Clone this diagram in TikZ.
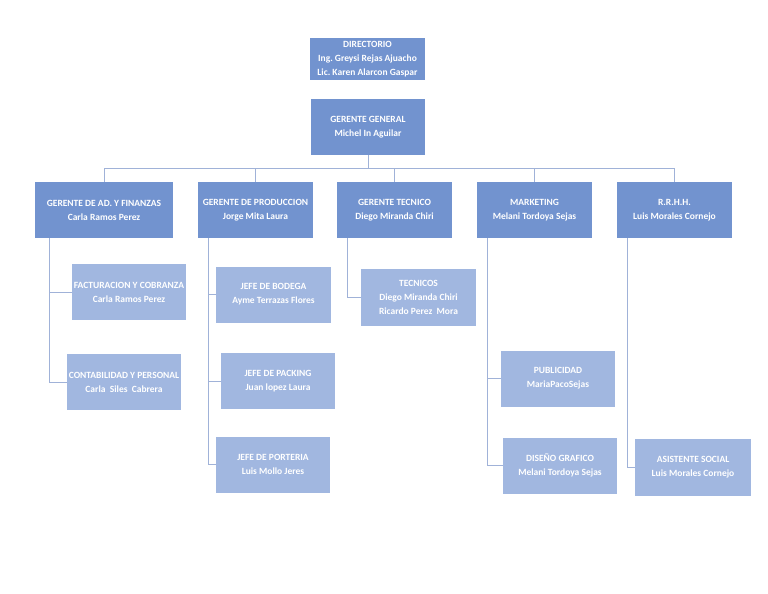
\documentclass[tikz,border=0pt]{standalone}
\usepackage{fontspec}
\setmainfont{Carlito}
\definecolor{darkbox}{RGB}{114,147,207}
\definecolor{lightbox}{RGB}{161,183,224}
\definecolor{connc}{RGB}{160,178,216}
\begin{document}
\begin{tikzpicture}[x=1pt,y=-1pt,
  box/.style={rectangle, inner sep=0pt, text=white, align=center,
    font=\fontsize{9.5}{14}\selectfont\bfseries, minimum width=#1},
  topbox/.style={box=114pt, fill=darkbox, minimum height=56pt},
  subbox/.style={box=114pt, fill=lightbox, minimum height=56pt},
  conn/.style={draw=connc, line width=0.9pt}]
\useasboundingbox[fill=white] (0,0) rectangle (768,594);
% level 0/1
\node[box=115pt, fill=darkbox, minimum height=42pt] (dir) at (367.5,59)
  {DIRECTORIO\\ Ing.\ Greysi Rejas Ajuacho\\ Lic.\ Karen Alarcon Gaspar};
\node[topbox] (gg) at (368,127) {GERENTE GENERAL\\ Michel In Aguilar};
% level 2
\node[topbox, minimum width=138pt] (gaf) at (104,210) {GERENTE DE AD.\ Y FINANZAS\\ Carla Ramos Perez};
\node[topbox, minimum width=115pt] (gp) at (255.5,210) {GERENTE DE PRODUCCION\\ Jorge Mita Laura};
\node[topbox, minimum width=115pt] (gt) at (394.5,210) {GERENTE TECNICO\\ Diego Miranda Chiri};
\node[topbox, minimum width=115pt] (mkt) at (534.5,210) {MARKETING\\ Melani Tordoya Sejas};
\node[topbox, minimum width=115pt] (rrhh) at (674.5,210) {R.R.H.H.\\ Luis Morales Cornejo};
% level 3
\node[subbox] (fac) at (129,292) {FACTURACION Y COBRANZA\\ Carla Ramos Perez};
\node[subbox] (cont) at (124,382) {CONTABILIDAD Y PERSONAL\\ Carla\ \ Siles\ \ Cabrera};
\node[subbox, minimum width=115pt] (jb) at (273.5,294.5) {JEFE DE BODEGA\\ Ayme Terrazas Flores};
\node[subbox] (jp) at (278,381) {JEFE DE PACKING\\ Juan lopez Laura};
\node[subbox] (jpo) at (273,464.5) {JEFE DE PORTERIA\\ Luis Mollo Jeres};
\node[subbox, minimum width=115pt, minimum height=57pt] (tec) at (418.5,297.5) {TECNICOS\\ Diego Miranda Chiri\\ Ricardo Perez\ \ Mora};
\node[subbox] (pub) at (558,378.5) {PUBLICIDAD\\ MariaPacoSejas};
\node[subbox] (dis) at (560,465.5) {DISEÑO GRAFICO\\ Melani Tordoya Sejas};
\node[subbox, minimum width=116pt, minimum height=57pt] (as) at (693,467.5) {ASISTENTE SOCIAL\\ Luis Morales Cornejo};
% connectors level 1-2
\coordinate (bus) at (368,168);
\draw[conn] (gg.south) -- (gg.south |- bus);
\draw[conn] (gaf.north) -- (gaf.north |- bus) -- (rrhh.north |- bus) -- (rrhh.north);
\draw[conn] (gp.north) -- (gp.north |- bus);
\draw[conn] (gt.north) -- (gt.north |- bus);
\draw[conn] (mkt.north) -- (mkt.north |- bus);
% connectors level 2-3
\coordinate (gafl) at ([xshift=14.5pt]gaf.south west);
\coordinate (gpl) at ([xshift=11pt]gp.south west);
\coordinate (gtl) at ([xshift=11pt]gt.south west);
\coordinate (mktl) at ([xshift=11pt]mkt.south west);
\coordinate (rrhhl) at ([xshift=11pt]rrhh.south west);
\draw[conn] (gafl) |- (cont.west);
\draw[conn] (gafl |- fac.west) -- (fac.west);
\draw[conn] (gpl) |- (jpo.west);
\draw[conn] (gpl |- jb.west) -- (jb.west);
\draw[conn] (gpl |- jp.west) -- (jp.west);
\draw[conn] (gtl) |- (tec.west);
\draw[conn] (mktl) |- (dis.west);
\draw[conn] (mktl |- pub.west) -- (pub.west);
\draw[conn] (rrhhl) |- (as.west);
\end{tikzpicture}
\end{document}
